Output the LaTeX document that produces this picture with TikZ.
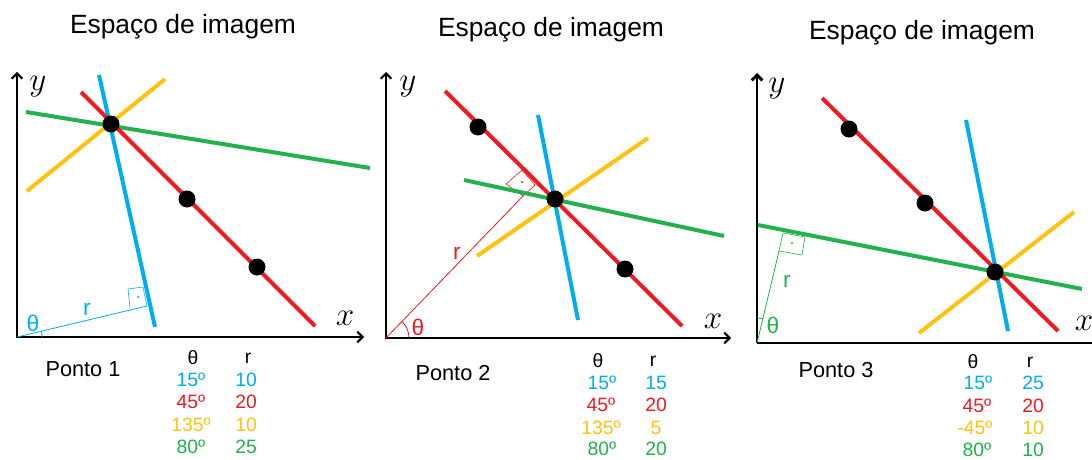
\documentclass[tikz,border=0pt]{standalone}
\usepackage{fontspec}
\setmainfont{Liberation Sans}
\usetikzlibrary{arrows.meta}
\definecolor{cblue}{HTML}{00AEEF}
\definecolor{cred}{HTML}{ED1C24}
\definecolor{cyel}{HTML}{FFC20E}
\definecolor{cgreen}{HTML}{22B14C}
\begin{document}
\begin{tikzpicture}[x=0.75pt,y=-0.75pt,
  axisline/.style={line width=1.5pt, line join=miter, {Straight Barb[length=4pt,width=8pt]}-{Straight Barb[length=4pt,width=8pt]}},
  axisthick/.style={line width=2.2pt, line join=miter},
  houghline/.style={line width=3pt},
  perpline/.style={line width=0.6pt},
  sqline/.style={line width=0.45pt},
  dot/.style={circle, fill=black, inner sep=0pt, minimum size=12.75pt},
  smalldot/.style={circle, inner sep=0pt, minimum size=1.6pt},
  title/.style={font=\fontsize{19.8}{24}\selectfont},
  ponto/.style={font=\fontsize{16.3}{20}\selectfont},
  tab/.style={font=\fontsize{14.5}{17}\selectfont},
  axlabel/.style={font=\fontsize{30}{34}\selectfont},
  anglabel/.style={font=\fontsize{17}{20}\selectfont}]
\useasboundingbox (0,0) rectangle (1092,460);

% titles
\node[title] (t1) at (183,27) {Espaço de imagem};
\node[title] (t2) at (551,30) {Espaço de imagem};
\node[title] (t3) at (922,33) {Espaço de imagem};

% ================= Panel 1 =================
\coordinate (o1) at (17,337);
\coordinate (ya1) at (17,72);
\coordinate (xa1) at (364,337);
\draw[axisline] (xa1) -- (o1) -- (ya1);
\node[axlabel] (ly1) at (38,87) {$y$};
\node[axlabel] (lx1) at (345,318) {$x$};

\coordinate (f1) at (147,306);
\draw[perpline, cblue] (o1) -- (f1);
\draw[sqline, cblue] (f1) -- (143,287) -- (128,289) -- (130,308);
\node[smalldot, fill=cblue] (sd1) at (138,297) {};
\draw[perpline, cblue] (o1) ++(25*0.75pt,0) arc[start angle=0, end angle=13.4, radius=18.75pt];

\draw[houghline, cyel] (27,191) -- (165,79);
\draw[houghline, cgreen] (26,112) -- (370,168);
\draw[houghline, cblue] (99,75) -- (155,327);
\draw[houghline, cred] (81,92) -- (315,326);
\node[dot] (d11) at (111,124) {};
\node[dot] (d12) at (187,199) {};
\node[dot] (d13) at (257,267) {};

\node[anglabel, cblue] (th1) at (33,323) {θ};
\node[anglabel, cblue] (r1) at (87,309) {r};

\node[ponto] (p1) at (83,369) {Ponto 1};
\node[tab] (h11) at (193,358) {θ};
\node[tab] (h12) at (248,358) {r};
\node[tab, cblue] (a11) at (191,380) {15º};
\node[tab, cred] (a12) at (191,402) {45º};
\node[tab, cyel] (a13) at (191,425) {135º};
\node[tab, cgreen] (a14) at (191,447) {80º};
\node[tab, cblue] (b11) at (246,380) {10};
\node[tab, cred] (b12) at (246,402) {20};
\node[tab, cyel] (b13) at (246,425) {10};
\node[tab, cgreen] (b14) at (246,447) {25};

% ================= Panel 2 =================
\coordinate (o2) at (386,338);
\coordinate (ya2) at (386,72);
\coordinate (xa2) at (731,338);
\draw[axisline] (xa2) -- (o2) -- (ya2);
\node[axlabel] (ly2) at (408,87) {$y$};
\node[axlabel] (lx2) at (713,321) {$x$};

\coordinate (f2) at (523,196);
\draw[perpline, cred] (o2) -- (f2);
\draw[sqline, cred] (f2) -- (506,184) -- (522,170) -- (535,185) -- cycle;
\node[smalldot, fill=cred] (sd2) at (522,182) {};
\draw[perpline, cred] (o2) ++(23*0.75pt,0) arc[start angle=0, end angle=46, radius=17.25pt];

\draw[houghline, cyel] (477,256) -- (648,138);
\draw[houghline, cgreen] (464,180) -- (724,236);
\draw[houghline, cblue] (538,115) -- (578,320);
\draw[houghline, cred] (445,91) -- (682,326);
\node[dot] (d21) at (478,127) {};
\node[dot] (d22) at (555,199) {};
\node[dot] (d23) at (625,269) {};

\node[anglabel, cred] (th2) at (418,327) {θ};
\node[anglabel, cred] (r2) at (457,253) {r};

\node[ponto] (p2) at (453,373) {Ponto 2};
\node[tab] (h21) at (598,361) {θ};
\node[tab] (h22) at (653,361) {r};
\node[tab, cblue] (a21) at (602,383) {15º};
\node[tab, cred] (a22) at (601,405) {45º};
\node[tab, cyel] (a23) at (601,428) {135º};
\node[tab, cgreen] (a24) at (602,449) {80º};
\node[tab, cblue] (b21) at (656,383) {15};
\node[tab, cred] (b22) at (656,405) {20};
\node[tab, cyel] (b23) at (656,428) {5};
\node[tab, cgreen] (b24) at (656,449) {20};

% ================= Panel 3 =================
\coordinate (o3) at (757,343);
\coordinate (ya3) at (757,73);
\coordinate (xa3) at (1092,343);
\draw[axisthick, -{Straight Barb[length=4pt,width=8pt]}] (o3) -- (ya3);
\draw[axisthick] (o3) -- (xa3);
\node[axlabel] (ly3) at (777,89) {$y$};
\node[axlabel] (lx3) at (1084,323) {$x$};

\coordinate (f3) at (779,251);
\draw[perpline, cgreen] (o3) -- (f3);
\draw[sqline, cgreen] (f3) -- (783,233) -- (805,237) -- (802,255) -- cycle;
\node[smalldot, fill=cgreen] (sd3) at (792,243) {};
\draw[perpline, cgreen] (o3) ++(76:18.75pt) arc[start angle=76, end angle=90, radius=18.75pt];

\draw[houghline, cyel] (919,333) -- (1074,212);
\draw[houghline, cgreen] (758,225) -- (1082,289);
\draw[houghline, cblue] (966,120) -- (1008,331);
\draw[houghline, cred] (822,98) -- (1058,331);
\node[dot] (d31) at (849,129) {};
\node[dot] (d32) at (925,203) {};
\node[dot] (d33) at (995,272) {};

\node[anglabel, cgreen] (th3) at (773,325) {θ};
\node[anglabel, cgreen] (r3) at (787,281) {r};

\node[ponto] (p3) at (836,370) {Ponto 3};
\node[tab] (h31) at (973,362) {θ};
\node[tab] (h32) at (1030,362) {r};
\node[tab, cblue] (a31) at (978,383) {15º};
\node[tab, cred] (a32) at (977,406) {45º};
\node[tab, cyel] (a33) at (975,428) {-45º};
\node[tab, cgreen] (a34) at (977,450) {80º};
\node[tab, cblue] (b31) at (1033,383) {25};
\node[tab, cred] (b32) at (1033,406) {20};
\node[tab, cyel] (b33) at (1033,428) {10};
\node[tab, cgreen] (b34) at (1033,450) {10};
\end{tikzpicture}
\end{document}
